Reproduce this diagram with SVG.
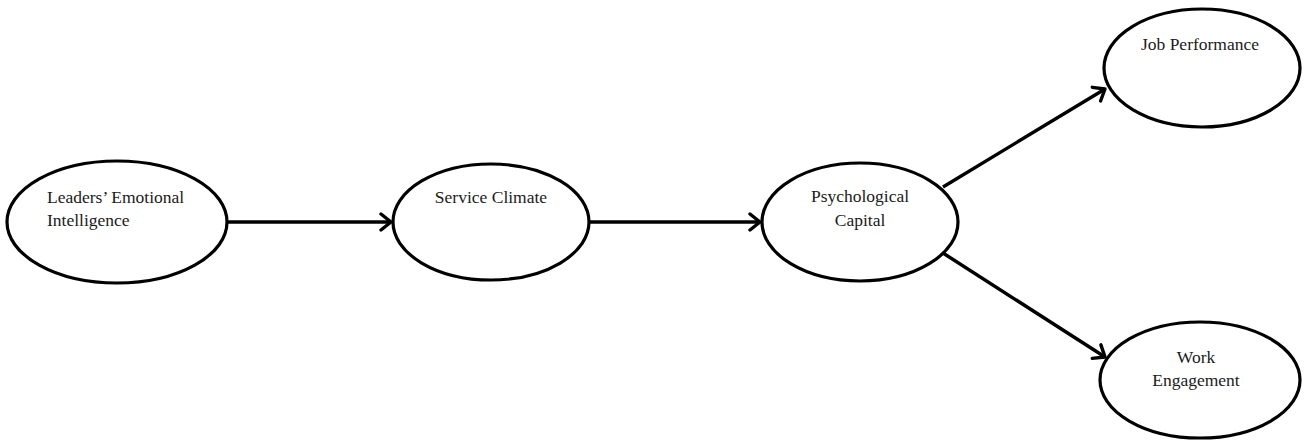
<svg xmlns="http://www.w3.org/2000/svg" width="1304" height="441" viewBox="0 0 1304 441">
<style>
.node ellipse{fill:#fff;stroke:#000;stroke-width:3.2}
.node text{font-family:"Liberation Serif","Times New Roman",serif;font-size:17.5px;fill:#1a1a1a}
.conn line{stroke:#000;stroke-width:3.4;fill:none}
</style>
<defs>
<marker id="arr" markerUnits="userSpaceOnUse" markerWidth="20" markerHeight="20" refX="13" refY="9" orient="auto" viewBox="0 0 20 18">
<path d="M3,1 L13,9 L3,17" fill="none" stroke="#000" stroke-width="3.4" stroke-linecap="round" stroke-linejoin="round"/>
</marker>
</defs>
<rect width="1304" height="441" fill="#fff"/>
<g class="conn">
<line x1="228" y1="222" x2="391" y2="222" marker-end="url(#arr)"/>
<line x1="590" y1="222" x2="760" y2="222" marker-end="url(#arr)"/>
<line x1="943" y1="187" x2="1105" y2="89" marker-end="url(#arr)"/>
<line x1="943" y1="253" x2="1105" y2="357" marker-end="url(#arr)"/>
</g>
<g class="node" id="n-lei">
<ellipse cx="117" cy="222" rx="110" ry="61"/>
<text x="47" y="203">Leaders’ Emotional</text>
<text x="47" y="226">Intelligence</text>
</g>
<g class="node" id="n-sc">
<ellipse cx="491" cy="222" rx="98" ry="58"/>
<text x="491" y="203" text-anchor="middle">Service Climate</text>
</g>
<g class="node" id="n-pc">
<ellipse cx="860" cy="222" rx="98" ry="59"/>
<text x="860" y="202" text-anchor="middle">Psychological</text>
<text x="860" y="226" text-anchor="middle">Capital</text>
</g>
<g class="node" id="n-jp">
<ellipse cx="1202" cy="68" rx="98" ry="59"/>
<text x="1200" y="50" text-anchor="middle">Job Performance</text>
</g>
<g class="node" id="n-we">
<ellipse cx="1200" cy="380" rx="100" ry="58"/>
<text x="1196" y="363" text-anchor="middle">Work</text>
<text x="1196" y="386" text-anchor="middle">Engagement</text>
</g>
</svg>
